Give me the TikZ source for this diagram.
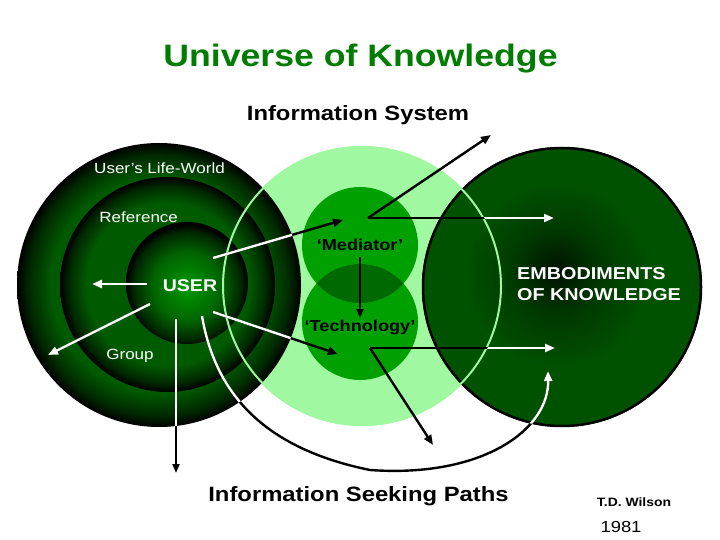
\documentclass[tikz,border=0pt]{standalone}
\usepackage{fontspec}
\setmainfont{Liberation Sans}[FakeStretch=1.15]
\usetikzlibrary{arrows.meta}
\definecolor{infogreen}{RGB}{160,248,160}
\definecolor{medgreen}{RGB}{0,160,0}
\definecolor{lensgreen}{RGB}{0,105,0}
\definecolor{titlegreen}{RGB}{0,125,0}
\definecolor{ringgreen}{RGB}{0,90,0}
\definecolor{ringdark}{RGB}{0,40,0}
\definecolor{usergreen}{RGB}{0,155,0}
\definecolor{usermid}{RGB}{0,100,0}
\definecolor{embgreen}{RGB}{0,82,0}
\definecolor{embmid}{RGB}{0,58,0}
\definecolor{embdark}{RGB}{0,18,0}
\pgfdeclareradialshading{ringshade}{\pgfpoint{0bp}{0bp}}{color(0bp)=(ringgreen); color(19bp)=(ringgreen); color(23bp)=(ringdark); color(25bp)=(black); color(50bp)=(black)}
\pgfdeclareradialshading{usershade}{\pgfpoint{0bp}{-2bp}}{color(0bp)=(usergreen); color(14bp)=(usermid); color(22bp)=(ringdark); color(25bp)=(black); color(50bp)=(black)}
\pgfdeclareradialshading{embshade}{\pgfpoint{-1bp}{3bp}}{color(0bp)=(embdark); color(8bp)=(embmid); color(17bp)=(embgreen); color(25bp)=(embgreen); color(50bp)=(embgreen)}
\begin{document}
\begin{tikzpicture}[x=1pt,y=-1pt,
  arr/.style={line width=2.4pt,-{Triangle[length=10pt,width=8pt]}},
  thinarr/.style={line width=2pt,-{Triangle[length=9pt,width=7pt]}},
  lbl/.style={inner sep=0pt,anchor=base},
  regtext/.style={font={\fontsize{14.8pt}{17pt}\selectfont}},
  boldmid/.style={font={\fontsize{15.8pt}{18pt}\selectfont\bfseries}},
  boldbig/.style={font={\fontsize{20.7pt}{24pt}\selectfont\bfseries}},
  embtext/.style={font={\fontsize{17.2pt}{21pt}\selectfont\bfseries},text=white,inner sep=0pt,anchor=base west}]
\useasboundingbox (0,0) rectangle (720,540);
% circle centres
\coordinate (Lc) at (159,285);
\coordinate (Mc) at (167.5,284.5);
\coordinate (Uc) at (187,283);
\coordinate (Ic) at (362,286);
\coordinate (Ec) at (562,287);
\coordinate (Medc) at (360,245);
\coordinate (Tecc) at (360,322);
% circles
\fill[infogreen] (Ic) circle[radius=140pt];
\shade[shading=ringshade] (Lc) circle[radius=142pt];
\shade[shading=ringshade] (Mc) circle[radius=107.5pt];
\shade[shading=usershade] (Uc) circle[radius=61pt];
\shade[shading=embshade] (Ec) circle[radius=140pt];
\draw[black,line width=2.5pt] (Ec) circle[radius=139pt];
\draw[infogreen,line width=2pt] (Ic) circle[radius=139pt];
\fill[medgreen] (Medc) circle[radius=58pt];
\fill[medgreen] (Tecc) circle[radius=58pt];
\begin{scope}
  \clip (Medc) circle[radius=58pt];
  \fill[lensgreen] (Tecc) circle[radius=58pt];
\end{scope}
% arrow end points
\coordinate (a1s) at (213,258); \coordinate (a1e) at (343,220);
\coordinate (a2s) at (213,312); \coordinate (a2e) at (338,354);
\coordinate (a3s) at (147,284); \coordinate (a3e) at (92,284);
\coordinate (a4s) at (150,304); \coordinate (a4e) at (48,355);
\coordinate (a5s) at (176,319); \coordinate (a5e) at (176,473);
\coordinate (a6s) at (202,316); \coordinate (a6m) at (370,470); \coordinate (a6e) at (548,371);
\coordinate (ms) at (368,218); \coordinate (a7e) at (491,135); \coordinate (a8e) at (554,218);
\coordinate (a9s) at (360,257); \coordinate (a9e) at (360,318);
\coordinate (ts) at (370,348); \coordinate (a10e) at (555,348); \coordinate (a11e) at (433,445);
% black pass
\draw[arr] (a1s) -- (a1e);
\draw[arr] (a2s) -- (a2e);
\draw[thinarr] (a5s) -- (a5e);
\draw[arr] (a6s) .. controls (215,392) and (262,448) .. (a6m) .. controls (482,478) and (549,430) .. (a6e);
\draw[arr] (ms) -- (a7e);
\draw[arr] (ms) -- (a8e);
\draw[thinarr] (a9s) -- (a9e);
\draw[arr] (ts) -- (a10e);
\draw[arr] (ts) -- (a11e);
% white parts inside the user's life-world
\begin{scope}
  \clip (Lc) circle[radius=142pt];
  \draw[arr,white] (a1s) -- (a1e);
  \draw[arr,white] (a2s) -- (a2e);
  \draw[arr,white] (a3s) -- (a3e);
  \draw[arr,white] (a4s) -- (a4e);
  \draw[thinarr,white] (a5s) -- (a5e);
  \draw[arr,white] (a6s) .. controls (215,392) and (262,448) .. (a6m) .. controls (482,478) and (549,430) .. (a6e);
\end{scope}
% white parts inside the embodiments of knowledge
\begin{scope}
  \clip (Ec) circle[radius=140pt];
  \begin{scope}[even odd rule]
    \clip (0,0) rectangle (720,540) (Ic) circle[radius=140pt];
    \draw[arr,white] (ms) -- (a8e);
    \draw[arr,white] (ts) -- (a10e);
    \draw[arr,white] (a6s) .. controls (215,392) and (262,448) .. (a6m) .. controls (482,478) and (549,430) .. (a6e);
  \end{scope}
\end{scope}
% texts
\node[lbl,text=titlegreen,font={\fontsize{31pt}{36pt}\selectfont\bfseries}] (title) at (360.5,67) {Universe of Knowledge};
\node[lbl,boldbig] (infosys) at (358,121) {Information System};
\node[lbl,boldbig] (paths) at (358.5,501) {Information Seeking Paths};
\node[lbl,regtext,text=white] (life) at (159.5,174) {User’s Life-World};
\node[lbl,regtext,text=white] (ref) at (138.7,222.5) {Reference};
\node[lbl,regtext,text=white] (group) at (130,359) {Group};
\node[lbl,text=white,font={\fontsize{17pt}{20pt}\selectfont\bfseries}] (user) at (190,291.5) {USER};
\node[lbl,boldmid] (med) at (360,251) {‘Mediator’};
\node[lbl,boldmid] (tech) at (360,331.5) {‘Technology’};
\node[embtext] (emb1) at (517,279.3) {EMBODIMENTS};
\node[embtext] (emb2) at (517,300) {OF KNOWLEDGE};
\node[lbl,font={\fontsize{12.1pt}{14pt}\selectfont\bfseries}] (author) at (634,506.7) {T.D. Wilson};
\node[lbl,font={\fontsize{16pt}{19pt}\selectfont}] (year) at (621,532.7) {1981};
\end{tikzpicture}
\end{document}
